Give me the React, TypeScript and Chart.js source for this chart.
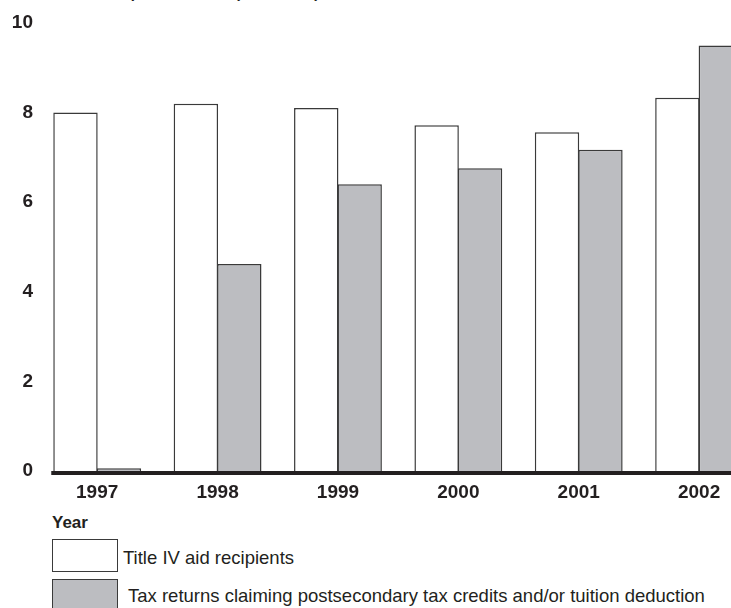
import React, { useEffect, useRef } from "react";
import { Chart, registerables } from "chart.js";

Chart.register(...registerables);

const years = ["1997", "1998", "1999", "2000", "2001", "2002"];
const titleIVRecipients = [8.0, 8.2, 8.1, 7.72, 7.56, 8.33];
const taxReturns = [0.06, 4.62, 6.4, 6.76, 7.17, 9.5];
const seriesLabels = [
  "Title IV aid recipients",
  "Tax returns claiming postsecondary tax credits and/or tuition deduction",
];
const axisTitle = "Number of recipients/returns (in millions)";
const xAxisTitle = "Year";

const FONT = '"Liberation Sans", Arial, Helvetica, sans-serif';
const INK = "#231f20";
const GRAY = "#bcbdc1";
const EDGE = "#3a3a3a";

const baselinePlugin = {
  id: "baseline",
  afterDatasetsDraw(chart: any) {
    const { ctx, chartArea, scales } = chart;
    const y = scales.y.getPixelForValue(0);
    const first = chart.getDatasetMeta(0).data[0] as any;
    const x0 = first.x - first.width / 2 - 2;
    ctx.save();
    ctx.strokeStyle = INK;
    ctx.lineWidth = 4;
    ctx.beginPath();
    ctx.moveTo(x0, y + 2);
    ctx.lineTo(chartArea.right + 30, y + 2);
    ctx.stroke();
    ctx.restore();
  },
};

export default function App() {
  const ref = useRef<HTMLCanvasElement | null>(null);

  useEffect(() => {
    document.body.style.margin = "0";
    const canvas = ref.current!;
    const chart = new Chart(canvas, {
      type: "bar",
      data: {
        labels: years,
        datasets: [
          {
            label: seriesLabels[0],
            data: titleIVRecipients,
            backgroundColor: "#ffffff",
            borderColor: EDGE,
            borderWidth: 1.5,
          },
          {
            label: seriesLabels[1],
            data: taxReturns,
            backgroundColor: GRAY,
            borderColor: EDGE,
            borderWidth: 1.5,
          },
        ],
      },
      options: {
        responsive: false,
        animation: false,
        devicePixelRatio: 1,
        datasets: {
          bar: { categoryPercentage: 0.7214, barPercentage: 1.023 },
        } as any,
        layout: { padding: { top: 23, left: 0, right: 20.7, bottom: 0 } },
        plugins: {
          legend: { display: false },
          tooltip: { enabled: false },
          title: { display: false },
        },
        scales: {
          x: {
            grid: { display: false, drawTicks: false },
            border: { display: false },
            ticks: {
              color: INK,
              padding: 10,
              font: { family: FONT, size: 19, weight: "bold" },
            },
            afterFit: (s: any) => {
              s.height = 34;
            },
          },
          y: {
            min: 0,
            max: 10,
            grid: { display: false, drawTicks: false },
            border: { display: false },
            ticks: {
              stepSize: 2,
              color: INK,
              padding: 4,
              font: { family: FONT, size: 19, weight: "bold" },
            },
            afterFit: (s: any) => {
              s.width = 37;
            },
          },
        },
      },
      plugins: [baselinePlugin],
    });
    return () => chart.destroy();
  }, []);

  const txt: React.CSSProperties = {
    position: "absolute",
    fontFamily: FONT,
    color: INK,
    whiteSpace: "nowrap",
  };

  return (
    <div
      style={{
        position: "fixed",
        left: 0,
        top: 0,
        width: 731,
        height: 608,
        overflow: "hidden",
        background: "#ffffff",
      }}
    >
      <div style={{ ...txt, left: 25, top: -17, fontSize: 15, fontWeight: "bold", lineHeight: "20px" }}>
        {axisTitle}
      </div>
      <canvas
        ref={ref}
        width={780}
        height={505}
        style={{ position: "absolute", left: 0, top: 0, width: 780, height: 505 }}
      />
      <div style={{ ...txt, left: 52, top: 513, fontSize: 17, fontWeight: "bold", lineHeight: "20px" }}>
        {xAxisTitle}
      </div>
      <div
        style={{
          position: "absolute",
          left: 52,
          top: 539,
          width: 66,
          height: 33,
          boxSizing: "border-box",
          border: `1.5px solid ${EDGE}`,
          background: "#ffffff",
        }}
      />
      <div style={{ ...txt, left: 123, top: 547, fontSize: 18.5, lineHeight: "22px" }}>
        {seriesLabels[0]}
      </div>
      <div
        style={{
          position: "absolute",
          left: 52,
          top: 579,
          width: 66,
          height: 40,
          boxSizing: "border-box",
          border: `1.5px solid ${EDGE}`,
          background: GRAY,
        }}
      />
      <div style={{ ...txt, left: 128, top: 585, fontSize: 18.5, lineHeight: "22px" }}>
        {seriesLabels[1]}
      </div>
    </div>
  );
}
